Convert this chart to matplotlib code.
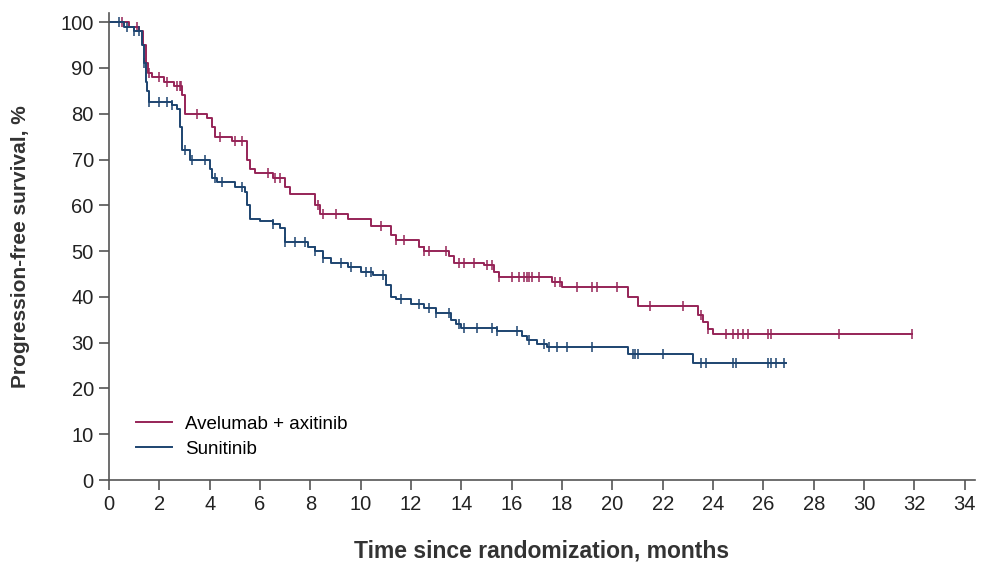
import numpy as np
import matplotlib.pyplot as plt

plt.rcParams['font.family'] = ['Liberation Sans', 'DejaVu Sans']

# Avelumab + axitinib: step drops (time, survival after drop) and censor times
ave_t = [0, 0.8, 1.2, 1.35, 1.45, 1.55, 1.7, 2.2, 2.6, 2.9, 3.0, 3.9, 4.1, 4.2, 4.9,
         5.5, 5.6, 5.8, 6.5, 7.0, 7.2, 8.2, 8.4, 9.5, 10.4, 11.2, 11.4, 12.3, 12.5,
         13.5, 13.7, 14.9, 15.3, 15.5, 17.6, 18.0, 20.6, 21.0, 23.4, 23.6, 23.8, 24.0]
ave_s = [100, 99, 98, 95, 91, 89, 88, 87, 86, 84, 80, 79, 77, 75, 74,
         70, 68, 67, 66, 64, 62.5, 60, 58, 57, 55.5, 53.5, 52.5, 51, 50,
         49, 47.5, 47, 45.5, 44.3, 43.2, 42.2, 40, 38, 36, 34.5, 33, 32]
ave_end = 31.9
ave_cens = [0.5, 1.1, 1.6, 2.0, 2.3, 2.7, 2.8, 2.85, 3.5, 4.4, 5.0, 5.3, 6.3, 6.6, 6.8,
            8.3, 8.5, 9.0, 10.8, 11.4, 11.7, 12.5, 12.7, 13.4, 13.9, 14.1, 14.5, 15.0,
            15.2, 15.5, 16.0, 16.3, 16.5, 16.6, 16.7, 16.8, 17.1, 17.7, 17.9, 18.6, 19.2,
            19.4, 20.2, 21.5, 22.8, 23.5, 23.8, 24.5, 24.8, 25.0, 25.2, 25.4, 26.2, 26.3,
            29.0, 31.9]

# Sunitinib
sun_t = [0, 0.6, 1.0, 1.3, 1.4, 1.45, 1.5, 1.6, 2.5, 2.7, 2.8, 2.9, 3.2, 4.0, 4.1, 4.3,
         5.0, 5.4, 5.5, 5.6, 6.0, 6.5, 6.8, 7.0, 7.9, 8.2, 8.5, 8.8, 9.5, 10.0, 10.5, 11.0,
         11.2, 11.4, 12.0, 12.5, 13.0, 13.6, 13.8, 14.0, 15.4, 16.4, 16.6, 17.0, 17.4,
         20.6, 23.2]
sun_s = [100, 99, 98, 95, 91, 87, 85, 82.5, 82, 81, 77, 72, 70, 68, 66, 65,
         64, 63, 60, 57, 56.5, 56, 55, 52, 51, 50, 48.5, 47.5, 46.5, 45.5, 44.7, 42.5,
         40, 39.5, 38.5, 37.5, 36.5, 35, 34, 33.3, 32.6, 31.5, 30.5, 29.7, 29.0,
         27.5, 25.5]
sun_end = 26.9
sun_cens = [0.4, 0.7, 1.0, 1.2, 1.4, 1.6, 2.0, 2.3, 2.5, 3.0, 3.3, 3.8, 4.2, 4.5, 5.3,
            6.5, 7.0, 7.4, 7.8, 8.2, 8.5, 9.2, 9.6, 10.2, 10.4, 10.9, 11.6, 12.3, 12.7,
            13.0, 13.5, 13.9, 14.1, 14.6, 15.2, 15.4, 16.2, 16.7, 17.3, 17.5, 17.8, 18.2,
            19.2, 20.8, 20.9, 21.0, 22.0, 23.5, 23.7, 24.8, 24.9, 26.2, 26.3, 26.5, 26.8]

red = '#962457'
blue = '#1d4470'


def km(ax, t, s, t_end, cens, color, label):
    tt = list(t) + [t_end]
    ss = list(s) + [s[-1]]
    ax.step(tt, ss, where='post', color=color, lw=1.4, label=label)
    # censor ticks sit on the curve
    idx = np.searchsorted(t, cens, side='right') - 1
    cy = np.array(s)[idx]
    ax.plot(cens, cy, ls='none', marker='|', ms=7, mew=1.1, color=color)


fig = plt.figure(figsize=(9.85, 5.67), dpi=100)
ax = fig.add_axes([0.1107, 0.1534, 0.879, 0.8236])

km(ax, ave_t, ave_s, ave_end, ave_cens, red, 'Avelumab + axitinib')
km(ax, sun_t, sun_s, sun_end, sun_cens, blue, 'Sunitinib')

ax.set_xlim(0, 34.4)
ax.set_ylim(0, 102)
ax.set_xticks(np.arange(0, 35, 2))
ax.set_yticks(np.arange(0, 101, 10))
ax.spines['top'].set_visible(False)
ax.spines['right'].set_visible(False)
for sp in ['left', 'bottom']:
    ax.spines[sp].set_color('#555555')
    ax.spines[sp].set_linewidth(1.2)
ax.tick_params(direction='out', length=7, width=1.2, color='#555555',
               labelsize=14.5, labelcolor='#222222', pad=4)

ax.set_xlabel('Time since randomization, months', fontsize=16.5, fontweight='bold',
              color='#333333', labelpad=18)
ax.set_ylabel('Progression-free survival, %', fontsize=15, fontweight='bold',
              color='#333333', labelpad=22)

ax.legend(loc='lower left', bbox_to_anchor=(0.012, 0.012), frameon=False,
          fontsize=13.5, handlelength=1.9, labelspacing=0.4, handletextpad=0.7)

fig.savefig('out.png', dpi=100)
